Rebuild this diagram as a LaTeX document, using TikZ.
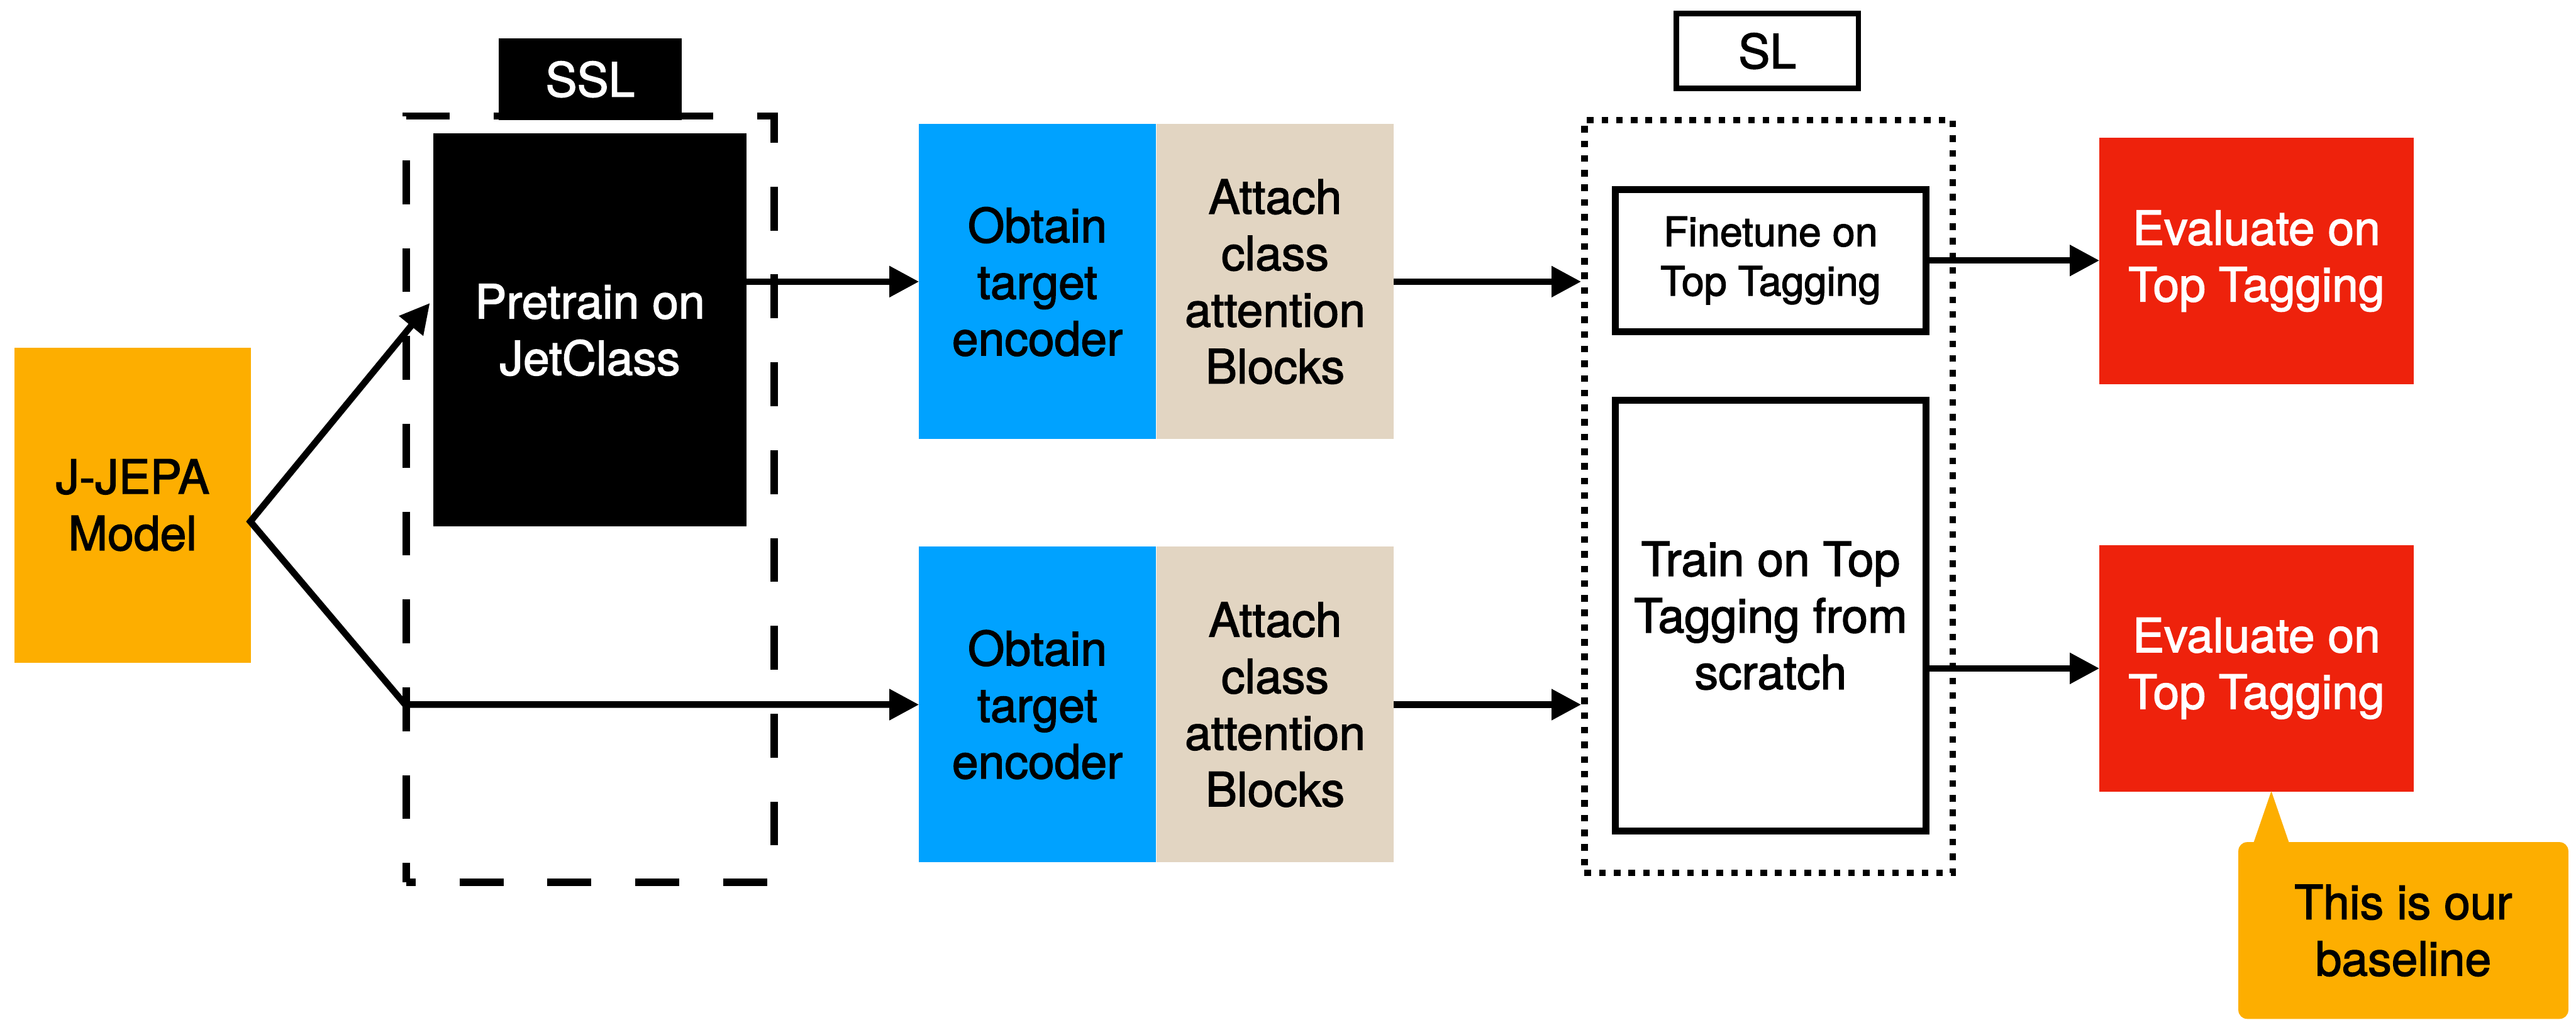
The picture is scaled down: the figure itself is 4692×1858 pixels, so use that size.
\documentclass[tikz,border=0pt]{standalone}
\usepackage{fontspec}
\setmainfont{TeX Gyre Heros}[FakeBold=2]
\usetikzlibrary{arrows.meta,calc}
\definecolor{jorange}{HTML}{FDAE00}
\definecolor{jblue}{HTML}{00A2FF}
\definecolor{jbeige}{HTML}{E2D5C2}
\definecolor{jred}{HTML}{EE220C}

\begin{document}
\begin{tikzpicture}[x=1pt,y=-1pt,
  txt/.style={inner sep=0pt, outer sep=0pt, align=center,
              font=\fontsize{86}{103}\selectfont},
  fillbox/.style={txt, draw=none},
  outline/.style={txt, draw=black, line width=13pt, fill=white},
  dashbox/.style={draw=black, line width=13pt, inner sep=0pt, outer sep=0pt,
                  dash pattern=on 80pt off 80pt, dash phase=63pt},
  dotbox/.style={draw=black, line width=12pt, inner sep=0pt, outer sep=0pt,
                 dash pattern=on 12pt off 14.7pt},
  arr/.style={line width=12pt, -{Triangle[length=54pt,width=54pt]}},
  twoarr/.style={line width=12pt,
                 {Triangle[length=54pt,width=54pt]}-{Triangle[length=54pt,width=54pt]}}]

\useasboundingbox (0,0) rectangle (4692,1858);

% input model
\node[fillbox, fill=jorange, minimum width=431pt, minimum height=574pt]
  (jjepa) at (241.5,920) {J-JEPA\\Model};

% self-supervised stage
\node[dashbox, minimum width=670pt, minimum height=1396pt] (sslbox) at (1075,909) {};
\node[fillbox, fill=black, text=white, minimum width=334pt, minimum height=149pt]
  (ssl) at (1075,144.5) {SSL};
\node[fillbox, fill=black, text=white, minimum width=571pt, minimum height=716pt]
  (pretrain) at (1074.5,601) {Pretrain on\\JetClass};

% encoder + class attention blocks
\node[fillbox, fill=jblue, minimum width=431pt, minimum height=574pt]
  (enc1) at (1889.5,513) {Obtain\\target\\encoder};
\node[fillbox, fill=jbeige, minimum width=431pt, minimum height=574pt]
  (att1) at (2322.5,513) {Attach\\class\\attention\\Blocks};
\node[fillbox, fill=jblue, minimum width=431pt, minimum height=575pt]
  (enc2) at (1889.5,1283.5) {Obtain\\target\\encoder};
\node[fillbox, fill=jbeige, minimum width=431pt, minimum height=575pt]
  (att2) at (2322.5,1283.5) {Attach\\class\\attention\\Blocks};

% supervised stage
\node[dotbox, minimum width=671pt, minimum height=1371pt] (slbox) at (3221.5,904.5) {};
\node[outline, line width=10pt, minimum width=332pt, minimum height=136pt]
  (sl) at (3219,93) {SL};
\node[outline, minimum width=566pt, minimum height=259pt,
      font=\fontsize{74}{90}\selectfont]
  (finetune) at (3225,474.5) {Finetune on\\Top Tagging};
\node[outline, minimum width=566pt, minimum height=785pt]
  (train) at (3225,1121.5) {Train on Top\\Tagging from\\scratch};

% evaluation
\node[fillbox, fill=jred, text=white, minimum width=572pt, minimum height=449pt]
  (eval1) at (4110,475.5) {Evaluate on\\Top Tagging};
\node[fillbox, fill=jred, text=white, minimum width=572pt, minimum height=449pt]
  (eval2) at (4110,1217.5) {Evaluate on\\Top Tagging};

% callout
\node[fillbox, fill=jorange, rounded corners=16pt, minimum width=601pt, minimum height=322pt]
  (note) at (4377.5,1695) {This is our\\baseline};
\coordinate (noteTip) at ($(eval2.south)+(27,-1)$);
\fill[jorange] ($(note.north west)+(26,6)$) -- (noteTip) -- ($(note.north west)+(94,6)$) -- cycle;

% connectors
\coordinate (fork) at (456,950);
\coordinate (upEnd) at (783,552);
\coordinate (bend) at (738,1283.5);
\draw[twoarr] (upEnd) -- (fork) -- (bend) -- (bend -| enc2.west);
\draw[arr] (pretrain.east |- enc1.west) -- (enc1.west);
\draw[arr, shorten >=6pt] (att1.east) -- (att1.east -| slbox.west);
\draw[arr, shorten >=6pt] (att2.east) -- (att2.east -| slbox.west);
\draw[arr] (finetune.east) -- (finetune.east -| eval1.west);
\draw[arr] (train.east |- eval2.west) -- (eval2.west);
\end{tikzpicture}
\end{document}
